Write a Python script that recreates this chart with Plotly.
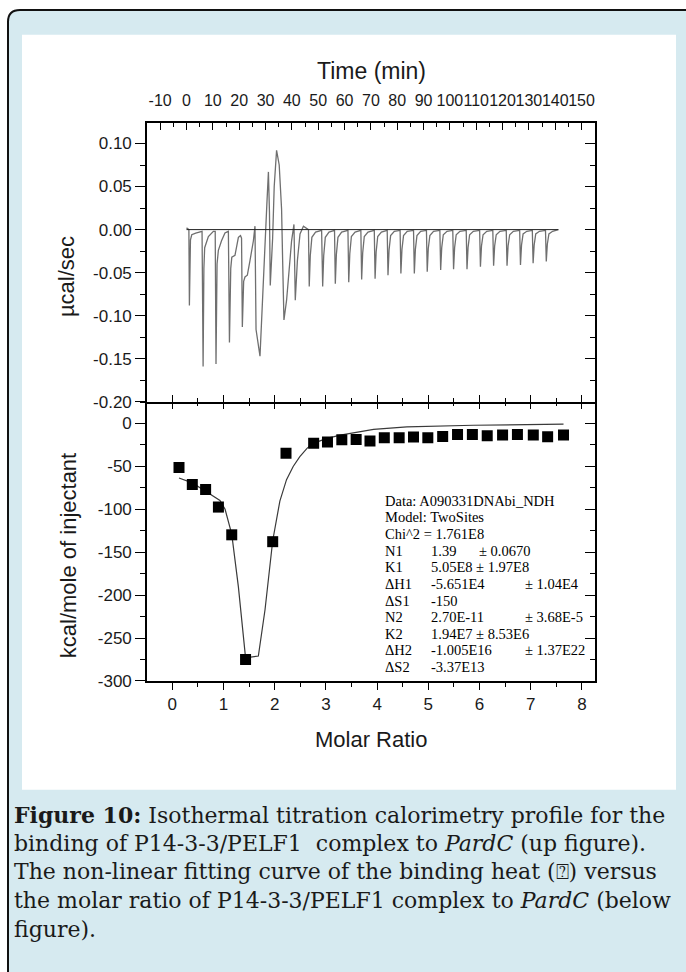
import plotly.graph_objects as go

W, H = 686, 972

# ---------------- data ----------------
time_min = [
    0.0, 0.9, 1.1, 1.5, 2.0, 3.5, 5.9,
    6.3, 6.6, 6.9, 8.3, 10.2, 10.9,
    11.2, 11.6, 12.1, 13.3, 14.6, 15.9,
    16.3, 16.8, 17.2, 18.4, 19.7, 20.5, 20.9,
    21.2, 21.7, 22.2, 23.1, 24.1, 25.4, 26.0,
    26.4, 27.9, 29.4, 30.5, 31.1, 31.5, 31.8, 32.7, 33.3, 34.2, 35.2, 36.1,
    36.5, 37.0, 38.0, 39.0, 39.9, 40.8, 41.3, 42.1, 43.1, 44.4, 45.6,
    46.3, 46.6, 47.0, 47.6, 49.0,
    51.3, 51.7, 52.1, 52.7, 54.1,
    56.2, 56.5, 56.9, 57.5, 58.9,
    61.3, 61.6, 62.0, 62.6, 64.0,
    66.2, 66.5, 66.9, 67.5, 68.9,
    71.3, 71.6, 72.0, 72.6, 74.0,
    76.2, 76.5, 76.9, 77.5, 78.9,
    81.1, 81.4, 81.8, 82.4, 83.8,
    86.2, 86.5, 86.9, 87.5, 88.9,
    91.1, 91.4, 91.8, 92.4, 93.8,
    96.2, 96.5, 96.9, 97.5, 98.9,
    101.1, 101.4, 101.8, 102.4, 103.8,
    106.2, 106.5, 106.9, 107.5, 108.9,
    111.3, 111.6, 112.0, 112.6, 114.0,
    116.3, 116.6, 117.0, 117.6, 119.0,
    121.4, 121.7, 122.1, 122.7, 124.1,
    126.5, 126.8, 127.2, 127.8, 129.2,
    131.3, 131.6, 132.0, 132.6, 134.0,
    136.3, 136.6, 137.0, 137.6, 139.0,
    141.2,
]
heat_rate = [
    0.002, 0.000, -0.088, -0.012, -0.006, -0.004, -0.002,
    -0.159, -0.045, -0.021, -0.008, -0.002, -0.002,
    -0.156, -0.040, -0.024, -0.013, -0.004, -0.002,
    -0.131, -0.045, -0.032, -0.030, -0.009, -0.007, -0.010,
    -0.113, -0.060, -0.055, -0.053, -0.036, -0.013, 0.004,
    -0.116, -0.147, -0.055, 0.029, 0.067, 0.020, -0.065, -0.010, 0.050, 0.092, 0.075, 0.024,
    -0.036, -0.105, -0.082, -0.048, -0.013, 0.006, -0.082, -0.036, -0.005, 0.004, 0.002,
    0.000, -0.066, -0.030, -0.009, -0.003,
    -0.001, -0.066, -0.030, -0.009, -0.003,
    -0.001, -0.063, -0.029, -0.009, -0.003,
    -0.001, -0.061, -0.028, -0.008, -0.003,
    -0.001, -0.058, -0.027, -0.008, -0.003,
    -0.001, -0.057, -0.026, -0.008, -0.003,
    -0.001, -0.053, -0.024, -0.007, -0.002,
    -0.001, -0.051, -0.023, -0.007, -0.002,
    -0.001, -0.051, -0.023, -0.007, -0.002,
    -0.001, -0.049, -0.022, -0.007, -0.002,
    -0.001, -0.047, -0.021, -0.006, -0.002,
    -0.001, -0.046, -0.021, -0.006, -0.002,
    -0.001, -0.046, -0.021, -0.006, -0.002,
    -0.001, -0.043, -0.019, -0.006, -0.002,
    -0.001, -0.042, -0.019, -0.006, -0.002,
    -0.001, -0.042, -0.019, -0.006, -0.002,
    -0.001, -0.041, -0.018, -0.005, -0.002,
    -0.001, -0.039, -0.018, -0.005, -0.002,
    -0.001, -0.037, -0.017, -0.005, -0.002,
    0.000,
]
assert len(time_min) == len(heat_rate)

baseline_time = [0.0, 141.2]
baseline_rate = [0.0, 0.0]

molar_ratio = [0.13, 0.39, 0.65, 0.90, 1.16, 1.43, 1.96, 2.22, 2.76, 3.03, 3.31, 3.59, 3.86,
               4.14, 4.43, 4.71, 4.99, 5.28, 5.57, 5.86, 6.15, 6.45, 6.74, 7.05, 7.33, 7.64]
heat_kcal = [-51.2, -71.2, -77.0, -97.4, -129.7, -275.0, -137.7, -34.6, -23.1, -21.6, -18.9, -18.5, -20.4,
             -16.6, -16.6, -15.8, -16.6, -15.0, -12.7, -12.7, -14.3, -13.5, -12.7, -13.5, -15.4, -13.5]

fit_ratio = [0.13, 0.39, 0.65, 0.93, 1.03, 1.16, 1.29, 1.43, 1.68, 1.81, 1.96, 2.10, 2.23, 2.36,
             2.49, 2.63, 2.75, 3.02, 3.28, 3.93, 4.58, 5.88, 7.64]
fit_kcal = [-63.5, -69.2, -78.9, -89.7, -100.0, -128.9, -190.4, -273.0, -271.0, -217.0, -136.6, -90.4,
            -65.4, -50.0, -38.5, -28.9, -23.1, -17.3, -13.5, -6.9, -3.9, -2.0, -0.8]

time_ticks = list(range(-10, 151, 10))
rate_ticks = [-0.20, -0.15, -0.10, -0.05, 0.00, 0.05, 0.10]
rate_ticktext = ["-0.20", "-0.15", "-0.10", "-0.05", "0.00", "0.05", "0.10"]
kcal_ticks = [-300, -250, -200, -150, -100, -50, 0]
kcal_ticktext = ["-300", "-250", "-200", "-150", "-100", "-50", "0"]
ratio_ticks = [0, 1, 2, 3, 4, 5, 6, 7, 8]

time_range = [-15.0, 155.1]
ratio_range = [-0.495, 8.255]
rate_range = [-0.20, 0.1241]
kcal_range = [-300, 25.3]

fit_labels = ["Data: A090331DNAbi_NDH", "Model: TwoSites", "Chi^2 = 1.761E8", "N1", "K1", "ΔH1",
              "ΔS1", "N2", "K2", "ΔH2", "ΔS2"]
fit_values = ["", "", "", "1.39", "5.05E8 ± 1.97E8", "-5.651E4", "-150", "2.70E-11",
              "1.94E7 ± 8.53E6", "-1.005E16", "-3.37E13"]
fit_errors = ["", "", "", "± 0.0670", "", "± 1.04E4", "", "± 3.68E-5", "", "± 1.37E22", ""]

caption_lines = [
    "<b>Figure 10:</b> Isothermal titration calorimetry profile for the",
    "binding of P14-3-3/PELF1  complex to <i>PardC</i> (up figure).",
    "The non-linear fitting curve of the binding heat (\u2370) versus",
    "the molar ratio of P14-3-3/PELF1 complex to <i>PardC</i> (below",
    "figure).",
]


# ---------------- layout helpers (reference pixel -> paper) ----------------
def px(x):
    return x / W


def py(y):
    return 1 - y / H


SANS = "Liberation Sans, Arial, sans-serif"
SERIF = "Liberation Serif, Times New Roman, serif"
CAP = "DejaVu Serif, serif"

x_dom = [px(147), px(595)]
y_up = [py(406), py(124)]
y_lo = [py(688), py(406)]

fig = go.Figure()

fig.add_trace(go.Scatter(x=time_min, y=heat_rate, mode="lines", xaxis="x2", yaxis="y",
                         line=dict(color="#6f6f6f", width=1.3), hoverinfo="skip", showlegend=False))
fig.add_trace(go.Scatter(x=baseline_time, y=baseline_rate, mode="lines", xaxis="x2", yaxis="y",
                         line=dict(color="#222222", width=1), hoverinfo="skip", showlegend=False))
fig.add_trace(go.Scatter(x=fit_ratio, y=fit_kcal, mode="lines", xaxis="x", yaxis="y2",
                         line=dict(color="#3a3a3a", width=1.2), hoverinfo="skip", showlegend=False))
fig.add_trace(go.Scatter(x=molar_ratio, y=heat_kcal, mode="markers", xaxis="x", yaxis="y2",
                         marker=dict(symbol="square", size=11, color="black"),
                         hoverinfo="skip", showlegend=False))
for xa, ya in [("x4", "y"), ("x2", "y3"), ("x3", "y2"), ("x", "y4")]:
    fig.add_trace(go.Scatter(x=[None], y=[None], xaxis=xa, yaxis=ya, mode="lines",
                             hoverinfo="skip", showlegend=False))

base = dict(showline=True, linecolor="black", linewidth=1.6, showgrid=False, zeroline=False,
            tickcolor="black", tickwidth=1.3,
            tickfont=dict(family=SANS, size=17, color="#1a1a1a"))


def minor(kind, t0, dt, ln):
    return dict(ticks=kind, tickmode="linear", tick0=t0, dtick=dt, ticklen=ln,
                tickcolor="black", tickwidth=1.2, showgrid=False)


fig.update_layout(
    width=W, height=H, margin=dict(l=0, r=0, t=0, b=0),
    paper_bgcolor="white", plot_bgcolor="rgba(0,0,0,0)", showlegend=False,
    xaxis=dict(base, domain=x_dom, anchor="y2", side="bottom", range=ratio_range,
               ticks="outside", tickmode="array", tickvals=ratio_ticks,
               ticktext=[str(v) for v in ratio_ticks], ticklen=7, tickangle=0,
               minor=minor("outside", 0, 0.5, 4)),
    xaxis2=dict(base, domain=x_dom, anchor="y", side="top", range=time_range,
                ticks="inside", tickmode="array", tickvals=time_ticks,
                ticktext=[str(v) for v in time_ticks], ticklen=7, ticklabelstandoff=9,
                tickangle=0, tickfont=dict(family=SANS, size=16, color="#1a1a1a"),
                minor=minor("inside", 0, 5, 4)),
    xaxis3=dict(base, overlaying="x", anchor="y2", side="top", range=ratio_range,
                showline=False,
                ticks="inside", showticklabels=False, tickmode="linear", tick0=0, dtick=1,
                ticklen=7, minor=minor("inside", 0, 0.5, 4)),
    xaxis4=dict(base, overlaying="x2", anchor="y", side="bottom", range=ratio_range,
                ticks="inside", showticklabels=False, tickmode="linear", tick0=0, dtick=1,
                ticklen=7, minor=minor("inside", 0, 0.5, 4)),
    yaxis=dict(base, domain=y_up, anchor="x2", side="left", range=rate_range,
               ticks="outside", tickmode="array", tickvals=rate_ticks, ticktext=rate_ticktext,
               ticklen=10, minor=minor("outside", 0, 0.025, 5)),
    yaxis2=dict(base, domain=y_lo, anchor="x", side="left", range=kcal_range,
                ticks="outside", tickmode="array", tickvals=kcal_ticks, ticktext=kcal_ticktext,
                ticklen=10, minor=minor("outside", 0, 25, 5)),
    yaxis3=dict(base, overlaying="y", anchor="x2", side="right", range=rate_range,
                ticks="inside", showticklabels=False, tickmode="linear", tick0=0, dtick=0.05,
                ticklen=10, minor=minor("inside", 0, 0.025, 5)),
    yaxis4=dict(base, overlaying="y2", anchor="x", side="right", range=kcal_range,
                ticks="inside", showticklabels=False, tickmode="linear", tick0=0, dtick=50,
                ticklen=10, minor=minor("inside", 0, 25, 5)),
)

# card background, border and white figure panel
r = 12
x0, y0, x1, y1 = 8, 10, 710, 1000
card_path = (f"M {px(x0 + r)},{py(y0)} L {px(x1)},{py(y0)} L {px(x1)},{py(y1)} "
             f"L {px(x0)},{py(y1)} L {px(x0)},{py(y0 + r)} "
             f"Q {px(x0)},{py(y0)} {px(x0 + r)},{py(y0)} Z")
fig.add_shape(type="path", path=card_path, xref="paper", yref="paper",
              fillcolor="#d6eaf0", line=dict(color="#111111", width=2), layer="below")
fig.add_shape(type="rect", xref="paper", yref="paper", x0=px(22), x1=px(676), y0=py(798), y1=py(35),
              fillcolor="white", line=dict(width=0), layer="below")

ann = []
ann.append(dict(text="Time (min)", x=px(371), y=py(72), font=dict(family=SANS, size=23, color="#1a1a1a")))
ann.append(dict(text="Molar Ratio", x=px(371), y=py(747), font=dict(family=SANS, size=22, color="#1a1a1a")))
ann.append(dict(text="\u00b5cal/sec", x=px(66), y=py(280), textangle=-90,
                font=dict(family=SANS, size=22, color="#1a1a1a")))
ann.append(dict(text="kcal/mole of injectant", x=px(68), y=py(562), textangle=-90,
                font=dict(family=SANS, size=22, color="#1a1a1a")))
for a in ann:
    a.update(xref="paper", yref="paper", showarrow=False, xanchor="center", yanchor="middle")

box_font = dict(family=SERIF, size=14.5, color="black")
for i, (lab, val, err) in enumerate(zip(fit_labels, fit_values, fit_errors)):
    yy = py(506 + i * 16.8)
    ann.append(dict(text=lab, x=px(383), y=yy, xref="paper", yref="paper", showarrow=False,
                    xanchor="left", yanchor="middle", font=box_font))
    if val:
        ann.append(dict(text=val, x=px(429), y=yy, xref="paper", yref="paper", showarrow=False,
                        xanchor="left", yanchor="middle", font=box_font))
    if err:
        ex = 477 if lab == "N1" else 523
        ann.append(dict(text=err, x=px(ex), y=yy, xref="paper", yref="paper", showarrow=False,
                        xanchor="left", yanchor="middle", font=box_font))

for i, line in enumerate(caption_lines):
    ann.append(dict(text=line, x=px(12), y=py(823 + i * 29), xref="paper", yref="paper",
                    showarrow=False, xanchor="left", yanchor="middle",
                    font=dict(family=CAP, size=22, color="#1a1a1a")))

fig.update_layout(annotations=ann)
# remove the browser's default 8 px body margin so the figure fills the window exactly
fig.write_html("out.html", config={"displayModeBar": False},
               post_script="document.body.style.margin='0';")
